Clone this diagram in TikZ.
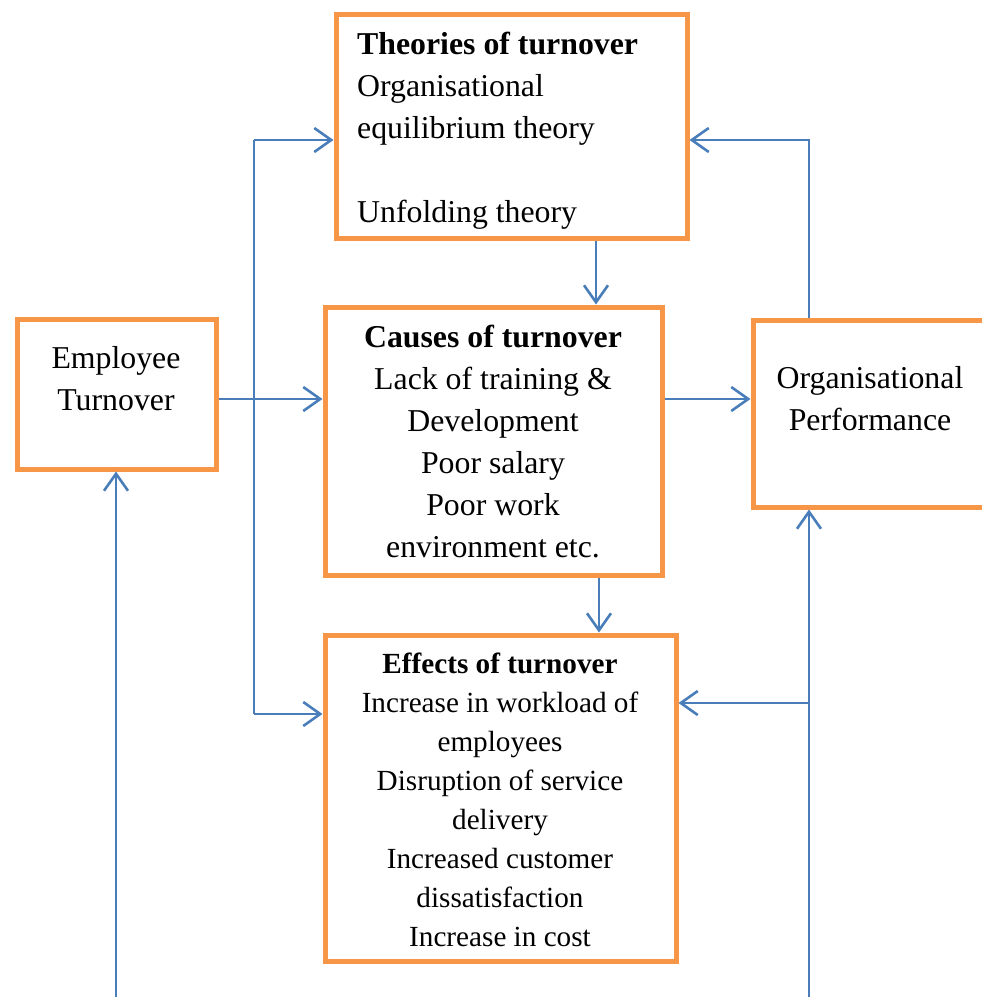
\documentclass[tikz,border=0pt]{standalone}
\usepackage{fontspec}
\setmainfont{Liberation Serif}
\usetikzlibrary{arrows.meta}
\definecolor{boxorange}{HTML}{F79646}
\definecolor{lineblue}{HTML}{4A7EBB}
\tikzset{
  box/.style={draw=boxorange, line width=5pt, rectangle, inner sep=0pt, fill=white},
  txt/.style={inner sep=0pt, font=\fontsize{31.8}{42}\selectfont},
  smalltxt/.style={inner sep=0pt, font=\fontsize{29.2}{39}\selectfont},
  conn/.style={draw=lineblue, line width=2.2pt},
  arr/.style={conn, -{Straight Barb[length=17pt,width=24pt,line width=2.6pt]}},
}
\begin{document}
\begin{tikzpicture}[x=1pt,y=-1pt]
\useasboundingbox (0,0) rectangle (982,997);
% boxes
\node[box, minimum width=351pt, minimum height=224pt] (theories) at (511.5,126) {};
\node[box, minimum width=199pt, minimum height=150pt] (employee) at (116.5,394) {};
\node[box, minimum width=337pt, minimum height=268pt] (causes) at (493.5,441) {};
\node[box, minimum width=252pt, minimum height=187pt] (orgperf) at (879,413.5) {};
\node[box, minimum width=351pt, minimum height=326pt] (effects) at (500.5,798) {};
% texts
\node[txt, align=left, anchor=west] (ttheories) at (357,131) {\textbf{Theories of turnover}\\Organisational\\equilibrium theory\\[42pt]Unfolding theory};
\node[txt, align=center] (temployee) at (116,379) {Employee\\Turnover};
\node[txt, align=center] (tcauses) at (493,442) {\textbf{Causes of turnover}\\Lack of training \&\\Development\\Poor salary\\Poor work\\environment etc.};
\node[txt, align=center] (torgperf) at (870,399) {Organisational\\Performance};
\node[smalltxt, align=center] (teffects) at (500,800) {\textbf{Effects of turnover}\\Increase in workload of\\employees\\Disruption of service\\delivery\\Increased customer\\dissatisfaction\\Increase in cost};
% junction coordinates
\coordinate (j1) at (254,140);
\coordinate (j2) at (254,714);
\coordinate (r1) at (809,140);
\coordinate (r2) at (809,703);
\coordinate (b1) at (116,1000);
\coordinate (b2) at (809,1000);
% connectors
\draw[conn, line width=1.8pt] (j1) -- (j2);
\draw[arr] (j1) -- (j1 -| theories.west);
\draw[arr] (j2) -- (j2 -| effects.west);
\draw[arr] (orgperf.north -| r1) -- (r1) -- (r1 -| theories.east);
\draw[arr] (employee.east |- 0,399) -- (causes.west |- 0,399);
\draw[arr] (causes.east |- 0,399) -- (orgperf.west |- 0,399);
\draw[arr] (theories.south -| 596,0) -- (causes.north -| 596,0);
\draw[arr] (causes.south -| 599,0) -- (effects.north -| 599,0);
\draw[arr] (b1) -- (employee.south -| b1);
\draw[arr] (b2) -- (orgperf.south -| b2);
\draw[arr] (r2) -- (r2 -| effects.east);
\end{tikzpicture}
\end{document}
